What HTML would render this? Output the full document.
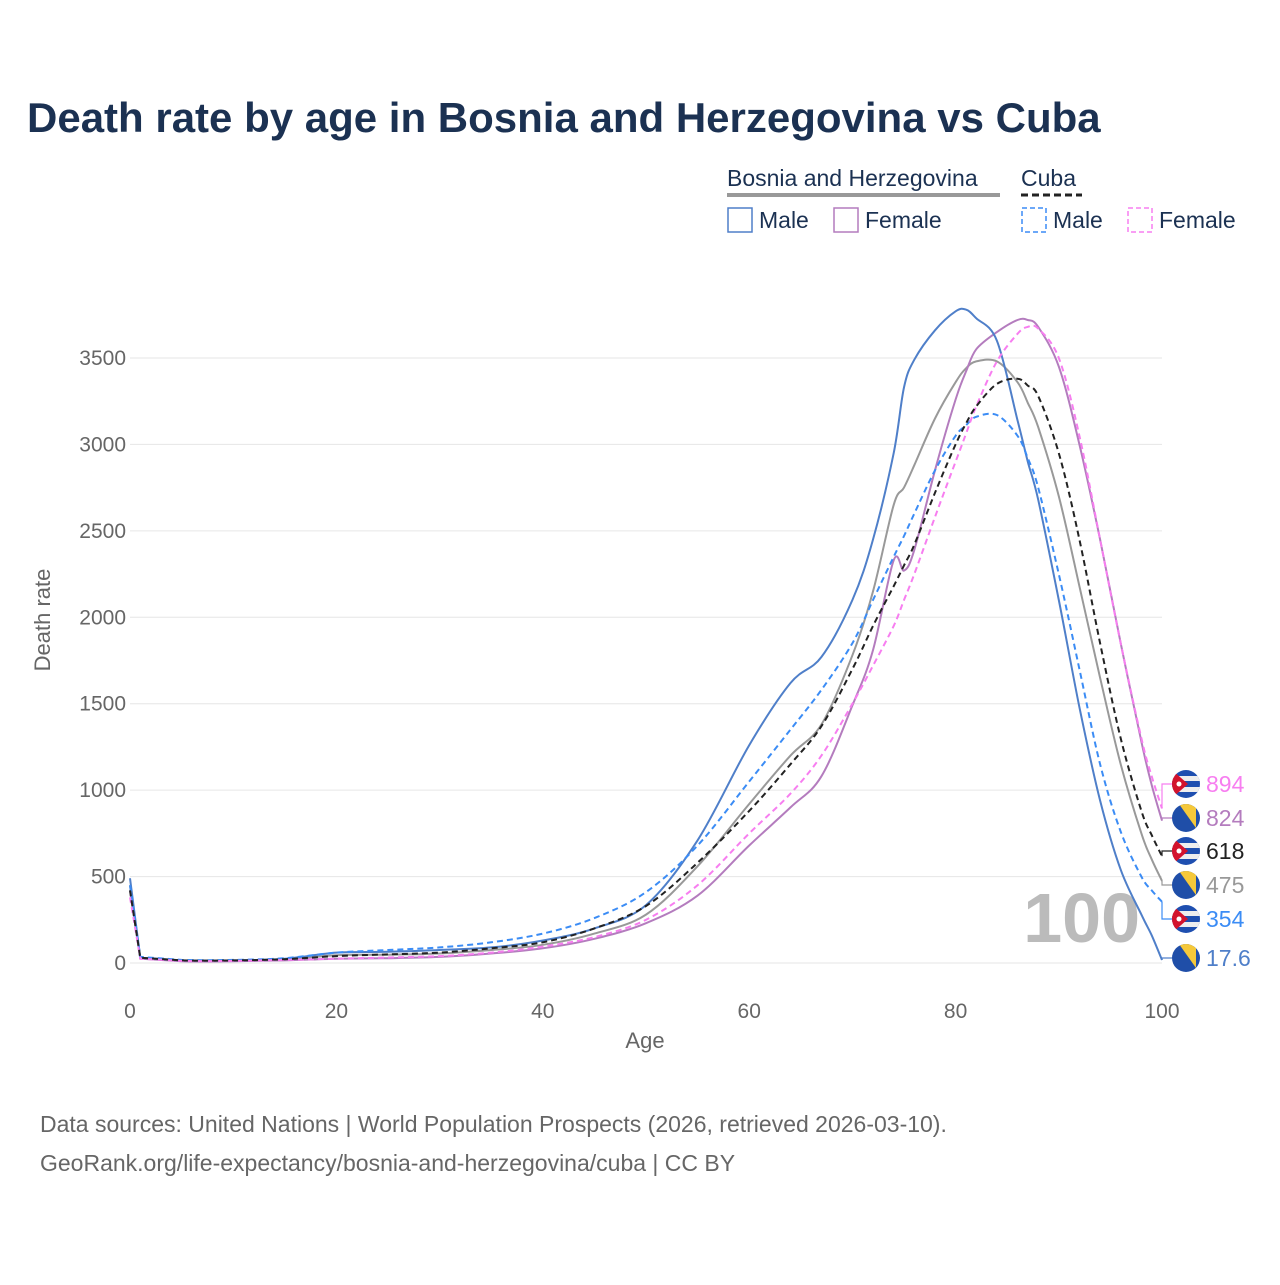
<!DOCTYPE html>
<html><head><meta charset="utf-8"><style>
body{margin:0;background:#fff;font-family:"Liberation Sans",sans-serif}
svg text{font-family:"Liberation Sans",sans-serif}
</style></head><body>
<svg id="c" width="1280" height="1280" xmlns="http://www.w3.org/2000/svg">
<text x="27" y="132" font-size="42" font-weight="bold" fill="#1b3152">Death rate by age in Bosnia and Herzegovina vs Cuba</text>
<g>
<text x="727" y="186" font-size="23" fill="#1b3152">Bosnia and Herzegovina</text>
<line x1="727" y1="195" x2="1000" y2="195" stroke="#999" stroke-width="4"/>
<text x="1021" y="186" font-size="23" fill="#1b3152">Cuba</text>
<line x1="1021" y1="195" x2="1082" y2="195" stroke="#222" stroke-width="3" stroke-dasharray="7,4"/>
<rect x="728" y="208" width="24" height="24" fill="none" stroke="#4f7fc9" stroke-width="1.5"/>
<text x="759" y="228" font-size="23" fill="#1b3152">Male</text>
<rect x="834" y="208" width="24" height="24" fill="none" stroke="#b47cbe" stroke-width="1.5"/>
<text x="865" y="228" font-size="23" fill="#1b3152">Female</text>
<rect x="1022" y="208" width="24" height="24" fill="none" stroke="#3b8cf5" stroke-width="1.5" stroke-dasharray="5,3"/>
<text x="1053" y="228" font-size="23" fill="#1b3152">Male</text>
<rect x="1128" y="208" width="24" height="24" fill="none" stroke="#f77ef0" stroke-width="1.5" stroke-dasharray="5,3"/>
<text x="1159" y="228" font-size="23" fill="#1b3152">Female</text>
</g>
<g id="grid"></g>
<text x="1140" y="942" font-size="70" font-weight="bold" fill="#bbb" text-anchor="end">100</text>
<g id="series"></g>
<g id="labels"></g>
<text transform="translate(50,620) rotate(-90)" font-size="22" fill="#666" text-anchor="middle">Death rate</text>
<text x="645" y="1048" font-size="22" fill="#666" text-anchor="middle">Age</text>
<text x="40" y="1132" font-size="23" fill="#666">Data sources: United Nations | World Population Prospects (2026, retrieved 2026-03-10).</text>
<text x="40" y="1171" font-size="23" fill="#666">GeoRank.org/life-expectancy/bosnia-and-herzegovina/cuba | CC BY</text>
</svg>
<script>
const yTicks=[0,500,1000,1500,2000,2500,3000,3500];
const xTicks=[0,20,40,60,80,100];
const ages=[0,1,5,10,15,20,25,30,35,40,45,50,55,60,64,67,70,72,74,75,76,78,80,81,82,84,86,87,88,90,92,94,96,98,99,100];
const bihMale=[490,30,15,15,25,60,65,75,90,130,200,335,710,1260,1620,1770,2100,2450,2950,3330,3490,3660,3770,3780,3730,3600,3140,2900,2680,2100,1480,940,540,280,160,17.6];
const bihFemale=[420,25,10,10,15,25,28,35,55,85,140,230,390,680,900,1080,1490,1810,2330,2270,2390,2850,3260,3420,3550,3650,3720,3720,3680,3450,3000,2450,1850,1280,1030,824];
const bihTotal=[450,28,12,12,20,45,48,55,75,105,170,280,560,920,1200,1380,1780,2150,2650,2750,2880,3150,3360,3440,3480,3480,3360,3240,3100,2700,2180,1650,1150,750,600,475];
const cubaTotal=[420,30,15,15,22,40,50,60,85,120,200,330,580,880,1150,1370,1700,1950,2180,2300,2420,2720,3000,3120,3220,3350,3380,3340,3280,2950,2450,1850,1300,880,740,618];
const cubaMale=[450,35,18,18,28,60,75,90,120,170,260,410,680,1050,1350,1580,1850,2100,2350,2470,2600,2850,3050,3110,3160,3170,3050,2920,2750,2250,1700,1150,760,500,420,354];
const cubaFemale=[380,25,12,12,18,25,32,40,60,95,150,250,450,750,980,1200,1500,1720,1950,2100,2250,2580,2900,3060,3220,3480,3640,3680,3670,3500,3050,2450,1850,1300,1080,894];
const endLabels=["894","824","618","475","354","17.6"];
const NS="http://www.w3.org/2000/svg";
const X=a=>130+a*10.32, Y=v=>963-v*0.17286;
function el(t,a,p){const e=document.createElementNS(NS,t);for(const k in a)e.setAttribute(k,a[k]);p.appendChild(e);return e;}
const g=document.getElementById('grid');
yTicks.forEach(v=>{const l=el('line',{x1:130,x2:1162,y1:Y(v),y2:Y(v),stroke:'#e6e6e6','stroke-width':1},g);


const t=el('text',{x:126,y:Y(v)+7,'font-size':21,fill:'#666','text-anchor':'end'},g);t.textContent=v;

});
xTicks.forEach(a=>{const t=el('text',{x:X(a),y:1018,'font-size':21,fill:'#666','text-anchor':'middle'},g);t.textContent=a;

});
function smooth(vals){const P=ages.map((a,i)=>[X(a),Y(vals[i])]);let d='M'+P[0][0].toFixed(1)+','+P[0][1].toFixed(1);
for(let i=0;i<P.length-1;i++){const p0=P[Math.max(0,i-1)],p1=P[i],p2=P[i+1],p3=P[Math.min(P.length-1,i+2)];
const k=i<2?0:1/6;
const c1=[p1[0]+(p2[0]-p0[0])*k,p1[1]+(p2[1]-p0[1])*k],c2=[p2[0]-(p3[0]-p1[0])*k,p2[1]-(p3[1]-p1[1])*k];
d+='C'+c1.map(v=>v.toFixed(1))+' '+c2.map(v=>v.toFixed(1))+' '+p2.map(v=>v.toFixed(1));}return d;}
const sg=document.getElementById('series');
const series=[[bihTotal,'#999',null,'bih-total-line'],[bihFemale,'#b47cbe',null,'bih-female-line'],[bihMale,'#4f7fc9',null,'bih-male-line'],[cubaMale,'#3b8cf5','6,4','cuba-male-line'],[cubaFemale,'#f77ef0','6,4','cuba-female-line'],[cubaTotal,'#222','6,4','cuba-total-line']];
series.forEach(s=>{
const p=el('path',{d:smooth(s[0]),fill:'none',stroke:s[1],'stroke-width':2},sg);if(s[2])p.setAttribute('stroke-dasharray',s[2]);

});
const lg=document.getElementById('labels');
const defs=el('defs',{},lg);
const lab=[[cubaFemale,'#f77ef0',784,'cuba'],[bihFemale,'#b47cbe',818,'bih'],[cubaTotal,'#222',851,'cuba'],[bihTotal,'#999',885,'bih'],[cubaMale,'#3b8cf5',919,'cuba'],[bihMale,'#4f7fc9',958,'bih']];
lab.forEach((L,i)=>{const vy=Y(L[0][L[0].length-1]);
el('path',{d:`M1162,${vy}L1162,${L[2]}L1172,${L[2]}`,fill:'none',stroke:L[1],'stroke-width':1.2},lg);
const cx=1186,cy=L[2];
const cp=el('clipPath',{id:'fc'+i},defs);el('circle',{cx:cx,cy:cy,r:14},cp);
const f=el('g',{'clip-path':'url(#fc'+i+')'},lg);


if(L[3]==='cuba'){el('rect',{x:cx-14,y:cy-14,width:28,height:28,fill:'#1e4fb0'},f);
el('rect',{x:cx-14,y:cy-8,width:28,height:5,fill:'#eee'},f);el('rect',{x:cx-14,y:cy+3,width:28,height:5,fill:'#eee'},f);
el('path',{d:`M${cx-14},${cy-14}L${cx+2},${cy}L${cx-14},${cy+14}Z`,fill:'#d3132d'},f);
el('circle',{cx:cx-7,cy:cy,r:2.5,fill:'#fff'},f);}
else{el('rect',{x:cx-14,y:cy-14,width:28,height:28,fill:'#1f4ea8'},f);
el('path',{d:`M${cx-7},${cy-14}L${cx+10},${cy-14}L${cx+10},${cy+10}Z`,fill:'#f5c83a'},f);}
const t=el('text',{x:1206,y:L[2]+8,'font-size':23,fill:L[1]},lg);t.textContent=endLabels[i];

});
</script>
</body></html>
